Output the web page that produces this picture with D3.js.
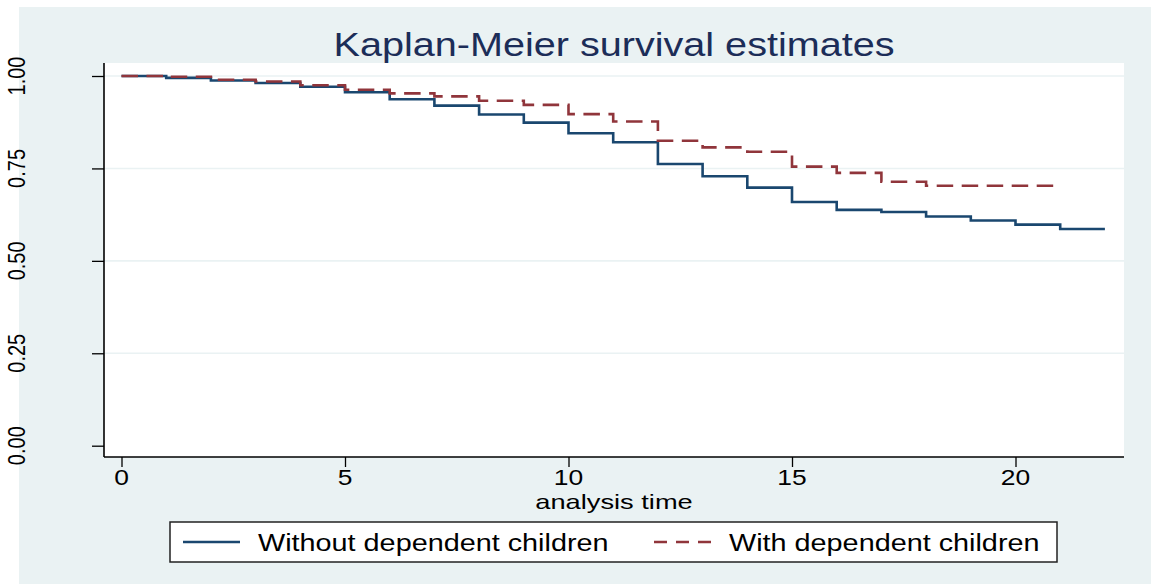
<!DOCTYPE html>
<html>
<head>
<meta charset="utf-8">
<script src="https://cdn.jsdelivr.net/npm/d3@7"></script>
<style>
  html, body { margin: 0; padding: 0; background: #ffffff; }
  svg { display: block; font-family: "Liberation Sans", Arial, sans-serif; }
</style>
</head>
<body>
<svg id="chart" width="1151" height="584"></svg>
<script>
// ---- data ----
const titleText = "Kaplan-Meier survival estimates";
const xLabel = "analysis time";
const seriesNames = ["Without dependent children", "With dependent children"];
const xTicks = [0, 5, 10, 15, 20];
const yTicks = [0, 0.25, 0.5, 0.75, 1];
const yTickLabels = ["0.00", "0.25", "0.50", "0.75", "1.00"];
const yGrid = [0.25, 0.5, 0.75, 1];

const timesWithout = [0,1,2,3,4,5,6,7,8,9,10,11,12,13,14,15,16,17,18,19,20,21];
const survWithout  = [1.000,0.995,0.988,0.981,0.971,0.956,0.937,0.920,0.896,0.874,0.845,0.821,0.762,0.729,0.698,0.659,0.638,0.632,0.620,0.609,0.598,0.586];
const endWithout = 22;

const timesWith = [0,1,2,3,4,5,6,7,8,9,10,11,12,13,14,15,16,17,18];
const survWith  = [1.000,0.998,0.990,0.985,0.975,0.963,0.953,0.945,0.933,0.922,0.897,0.877,0.825,0.807,0.795,0.755,0.738,0.714,0.703];
const endWith = 21;

// ---- layout ----
const svg = d3.select("#chart");
const SX = 1.2; // horizontal stretch of text
const plot = {left: 104, right: 1124, top: 63, bottom: 457};
const x = d3.scaleLinear().domain([0, 20]).range([121.5, 1015.5]);
const y = d3.scaleLinear().domain([0, 1]).range([445.7, 76]);

const bg = "#eaf2f3";
const blue = "#1a476f";
const red = "#90353b";

svg.append("rect").attr("x", 19).attr("y", 7).attr("width", 1151 - 19).attr("height", 584 - 7).attr("fill", bg);
svg.append("rect").attr("x", plot.left).attr("y", plot.top)
  .attr("width", plot.right - plot.left).attr("height", plot.bottom - plot.top).attr("fill", "#ffffff");

// grid
svg.append("g").selectAll("line").data(yGrid).join("line")
  .attr("x1", plot.left).attr("x2", plot.right)
  .attr("y1", d => y(d)).attr("y2", d => y(d))
  .attr("stroke", bg).attr("stroke-width", 1.6);

// title
svg.append("text")
  .attr("transform", `translate(${(plot.left + plot.right) / 2},56) scale(${SX},1)`)
  .attr("text-anchor", "middle").attr("font-size", 33).attr("fill", "#1c2d58")
  .text(titleText);

// axes
const yAxis = d3.axisLeft(y).tickValues(yTicks).tickSize(12).tickFormat("");
const gy = svg.append("g").attr("transform", `translate(${plot.left},0)`).call(yAxis);
gy.select(".domain").remove();
gy.selectAll(".tick line").attr("stroke", "#000").attr("stroke-width", 1.3);
svg.append("line").attr("x1", plot.left).attr("x2", plot.left)
  .attr("y1", plot.top).attr("y2", plot.bottom).attr("stroke", "#000").attr("stroke-width", 1.6);

const xAxis = d3.axisBottom(x).tickValues(xTicks).tickSize(10).tickFormat("");
const gx = svg.append("g").attr("transform", `translate(0,${plot.bottom})`).call(xAxis);
gx.select(".domain").remove();
gx.selectAll(".tick line").attr("stroke", "#000").attr("stroke-width", 1.3);
svg.append("line").attr("x1", plot.left).attr("x2", plot.right)
  .attr("y1", plot.bottom).attr("y2", plot.bottom).attr("stroke", "#000").attr("stroke-width", 1.6);

// y tick labels (rotated)
svg.append("g").selectAll("text").data(yTicks).join("text")
  .attr("transform", (d) => `translate(25,${y(d)}) scale(${SX},1) rotate(-90)`)
  .attr("text-anchor", "middle").attr("font-size", 20).attr("fill", "#000")
  .text((d, i) => yTickLabels[i]);

// x tick labels
svg.append("g").selectAll("text").data(xTicks).join("text")
  .attr("transform", d => `translate(${x(d)},485) scale(${SX},1)`)
  .attr("text-anchor", "middle").attr("font-size", 22).attr("fill", "#000")
  .text(d => d);

// x label
svg.append("text")
  .attr("transform", `translate(${(plot.left + plot.right) / 2},509) scale(1.33,1)`)
  .attr("text-anchor", "middle").attr("font-size", 20.5).attr("fill", "#000")
  .text(xLabel);

// curves
function stepData(times, surv, end) {
  const pts = times.map((t, i) => [t, surv[i]]);
  pts.push([end, surv[surv.length - 1]]);
  return pts;
}
const line = d3.line().x(d => x(d[0])).y(d => y(d[1])).curve(d3.curveStepAfter);

svg.append("path").datum(stepData(timesWithout, survWithout, endWithout))
  .attr("d", line).attr("fill", "none").attr("stroke", blue).attr("stroke-width", 2.6);
svg.append("path").datum(stepData(timesWith, survWith, endWith))
  .attr("d", line).attr("fill", "none").attr("stroke", red).attr("stroke-width", 2.6)
  .attr("stroke-dasharray", "16.5,8.5");

// legend
const lg = svg.append("g");
lg.append("rect").attr("x", 170).attr("y", 522).attr("width", 887).attr("height", 40)
  .attr("fill", "#ffffff").attr("stroke", "#222").attr("stroke-width", 1.5);
lg.append("line").attr("x1", 183).attr("x2", 240).attr("y1", 542).attr("y2", 542)
  .attr("stroke", blue).attr("stroke-width", 2.4);
lg.append("text").attr("transform", `translate(258,551) scale(${SX},1)`)
  .attr("font-size", 24).attr("fill", "#000").text(seriesNames[0]);
lg.append("line").attr("x1", 654).attr("x2", 712).attr("y1", 542).attr("y2", 542)
  .attr("stroke", red).attr("stroke-width", 2.4).attr("stroke-dasharray", "13,9");
lg.append("text").attr("transform", `translate(729,551) scale(${SX},1)`)
  .attr("font-size", 24).attr("fill", "#000").text(seriesNames[1]);
</script>
</body>
</html>
